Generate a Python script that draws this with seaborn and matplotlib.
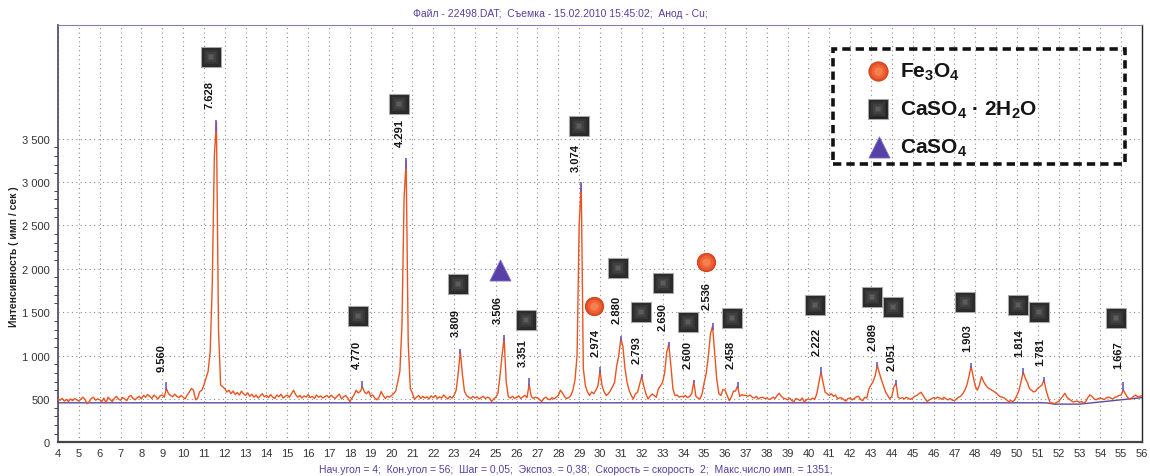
import numpy as np
import matplotlib
matplotlib.use('Agg')
import matplotlib.pyplot as plt
import seaborn as sns
from matplotlib.ticker import MultipleLocator, FixedLocator, FuncFormatter
from matplotlib.patches import Rectangle

# ---------------- data ----------------
scan_start, scan_end, scan_step = 4.0, 56.0, 0.1
intensity = (
    [500, 485, 505, 475, 495, 470, 500, 480, 505, 490] +      # 4
    [475, 500, 520, 490, 445, 470, 505, 520, 485, 500] +      # 5
    [490, 470, 510, 455, 520, 495, 470, 505, 530, 500] +      # 6
    [485, 515, 500, 480, 525, 540, 505, 490, 515, 530] +      # 7
    [500, 540, 520, 550, 530, 505, 545, 525, 500, 535] +      # 8
    [545, 520, 620, 560, 540, 525, 555, 530, 515, 540] +      # 9
    [520, 500, 545, 580, 620, 600, 490, 510, 585, 600] +      # 10
    [660, 740, 815, 1046, 1815, 3300, 3690, 1300, 660, 640] +  # 11
    [620, 580, 600, 560, 590, 550, 575, 545, 590, 560] +      # 12
    [540, 570, 530, 555, 520, 545, 510, 535, 560, 525] +      # 13
    [540, 515, 550, 520, 505, 545, 525, 555, 510, 530] +      # 14
    [545, 520, 560, 600, 550, 520, 540, 510, 535, 520] +      # 15
    [550, 515, 530, 505, 545, 520, 535, 510, 525, 540] +      # 16
    [515, 545, 520, 505, 535, 555, 500, 525, 540, 510] +      # 17
    [470, 510, 545, 600, 570, 585, 640, 580, 560, 590] +      # 18
    [530, 545, 510, 490, 520, 585, 540, 505, 530, 520] +      # 19
    [540, 560, 590, 700, 820, 1350, 2800, 3250, 1150, 620] +  # 20
    [565, 495, 520, 540, 505, 530, 510, 525, 500, 535] +      # 21
    [515, 540, 505, 525, 510, 545, 520, 500, 530, 510] +      # 22
    [540, 600, 800, 1050, 780, 585, 540, 520, 505, 530] +     # 23
    [510, 525, 500, 515, 530, 505, 520, 510, 470, 500] +      # 24
    [520, 560, 760, 1000, 1200, 700, 527, 510, 530, 505] +    # 25
    [520, 535, 505, 525, 540, 515, 670, 530, 505, 520] +      # 26
    [510, 495, 470, 505, 520, 500, 490, 515, 500, 520] +      # 27
    [540, 600, 570, 525, 505, 515, 540, 600, 720, 1000] +     # 28
    [2500, 2980, 850, 650, 580, 540, 580, 560, 600, 650] +    # 29
    [820, 650, 580, 540, 560, 595, 640, 690, 880, 1000] +     # 30
    [1200, 1100, 850, 690, 595, 540, 500, 560, 575, 670] +    # 31
    [760, 650, 560, 500, 530, 557, 540, 519, 615, 650] +      # 32
    [690, 800, 1037, 1130, 883, 615, 538, 545, 520, 530] +    # 33
    [525, 540, 515, 530, 560, 700, 530, 510, 500, 560] +      # 34
    [690, 800, 1000, 1250, 1340, 1037, 730, 560, 540, 610] +  # 35
    [600, 540, 480, 520, 590, 590, 650, 530, 550, 540] +      # 36
    [540, 530, 545, 520, 510, 530, 500, 515, 520, 505] +      # 37
    [510, 495, 500, 520, 505, 540, 565, 530, 510, 500] +      # 38
    [490, 510, 480, 470, 505, 495, 480, 510, 465, 490] +      # 39
    [500, 490, 510, 495, 560, 690, 810, 690, 577, 560] +      # 40
    [540, 560, 530, 545, 500, 515, 510, 490, 475, 505] +      # 41
    [510, 490, 505, 525, 530, 495, 480, 520, 510, 615] +      # 42
    [660, 700, 767, 890, 800, 720, 650, 580, 540, 500] +      # 43
    [530, 640, 680, 520, 505, 515, 500, 520, 505, 495] +      # 44
    [510, 530, 540, 560, 577, 540, 500, 470, 490, 500] +      # 45
    [515, 505, 520, 510, 495, 520, 500, 490, 505, 485] +      # 46
    [480, 500, 520, 530, 560, 600, 660, 760, 880, 760] +      # 47
    [650, 600, 660, 757, 700, 660, 630, 615, 600, 585] +      # 48
    [570, 545, 525, 520, 510, 490, 470, 480, 470, 490] +      # 49
    [540, 600, 700, 810, 740, 690, 620, 600, 580, 590] +      # 50
    [623, 640, 660, 720, 600, 520, 450, 455, 445, 460] +      # 51
    [470, 500, 530, 565, 520, 500, 480, 465, 470, 475] +      # 52
    [460, 470, 450, 470, 515, 546, 530, 500, 490, 505] +      # 53
    [510, 500, 495, 515, 520, 510, 500, 520, 525, 540] +      # 54
    [545, 604, 560, 520, 500, 510, 530, 545, 520, 530] +      # 55
    [540]                                                     # 56
)
two_theta = np.round(np.arange(len(intensity)) * scan_step + scan_start, 2)

base_theta = [4.0, 51.4, 51.8, 53.0, 56.0]
base_level = [455, 455, 440, 440, 515]

tip_theta = [9.2, 11.6, 18.6, 20.7, 23.3, 25.4, 26.6, 29.1, 30.0, 31.0, 32.0,
             33.3, 34.5, 35.4, 36.6, 40.6, 43.3, 44.2, 47.8, 50.3, 51.3, 55.1]
tip_top = [690, 3720, 707, 3280, 1080, 1235, 740, 3005, 865, 1230, 790,
           1160, 720, 1375, 700, 870, 920, 720, 910, 860, 757, 700]

d_labels = ['9.560', '7.628', '4.770', '4.291', '3.809', '3.506', '3.351', '3.074',
            '2.974', '2.880', '2.793', '2.690', '2.600', '2.536', '2.458', '2.222',
            '2.089', '2.051', '1.903', '1.814', '1.781', '1.667']
label_x = [8.99, 11.29, 18.34, 20.40, 23.09, 25.10, 26.30, 28.84, 29.80, 30.81, 31.77,
           33.02, 34.22, 35.13, 36.28, 40.40, 43.09, 44.00, 47.60, 50.09, 51.10, 54.84]
label_y = [983, 4012, 1019, 3574, 1386, 1536, 1041, 3287, 1156, 1536, 1075,
           1455, 1019, 1698, 1019, 1167, 1225, 995, 1213, 1156, 1052, 1019]

gypsum_x = [11.34, 18.39, 20.35, 23.18, 26.45, 28.99, 30.86, 31.96, 33.02, 34.22,
            36.33, 40.31, 43.04, 44.05, 47.50, 50.04, 51.05, 54.74]
gypsum_y = [4438, 1455, 3897, 1824, 1410, 3644, 2008, 1501, 1835, 1386,
            1432, 1582, 1674, 1559, 1616, 1582, 1501, 1432]
magnetite_x = [29.71, 35.08]
magnetite_y = [1570, 2078]
anhydrite_x = [25.2]
anhydrite_y = [1985]

y_major = [0, 500, 1000, 1500, 2000, 2500, 3000, 3500]

legend_labels = [r'Fe$_3$O$_4$', r'CaSO$_4$ · 2H$_2$O', r'CaSO$_4$']

title_text = 'Файл - 22498.DAT;  Съемка - 15.02.2010 15:45:02;  Анод - Cu;'
footer_text = ('Нач.угол = 4;  Кон.угол = 56;  Шаг = 0,05;  Экспоз. = 0,38;  '
               'Скорость = скорость  2;  Макс.число имп. = 1351;')
y_title = 'Интенсивность ( имп / сек )'

# ---------------- style ----------------
sns.set_style('white')
plt.rcParams['font.family'] = ['Liberation Sans', 'DejaVu Sans']
plt.rcParams['mathtext.fontset'] = 'custom'
plt.rcParams['mathtext.rm'] = 'Liberation Sans:bold'
plt.rcParams['mathtext.it'] = 'Liberation Sans:bold'
plt.rcParams['mathtext.bf'] = 'Liberation Sans:bold'

W, H = 1150, 477
fig = plt.figure(figsize=(W / 100, H / 100), dpi=100)
ax = fig.add_axes([58 / W, 1 - 443.3 / H, 1084 / W, 417.3 / H])

PURPLE = '#5b3d9c'
TRACE = '#ea5420'

sns.lineplot(x=base_theta, y=base_level, ax=ax, color='#5a4aa0', lw=1.0, zorder=2)
sns.lineplot(x=two_theta, y=intensity, ax=ax, color=TRACE, lw=1.0, zorder=3)

intens = np.array(intensity, dtype=float)
idx = np.rint((np.array(tip_theta) - scan_start) / scan_step).astype(int)
ax.vlines(tip_theta, intens[idx] * 0.97, tip_top, color='#6b5bc0', lw=1.2, zorder=4)

for t, x, y in zip(d_labels, label_x, label_y):
    ax.text(x, y, t, rotation=90, ha='center', va='center', fontsize=8,
            fontweight='bold', color='#151515', zorder=6)


def squares(xs, ys, scale=1.0, **kw):
    ax.scatter(xs, ys, s=225 * scale, marker='s', color='#222222', edgecolor='#a8a8a8',
               linewidth=0.8, zorder=7, clip_on=False, **kw)
    for k, (sz, col) in enumerate([(160, '#2c2c2c'), (105, '#363636'),
                                   (60, '#414141'), (25, '#4e4e4e'), (8, '#5c5c5c')]):
        ax.scatter(xs, ys, s=sz * scale, marker='s', color=col, linewidth=0,
                   zorder=8 + k * 0.1, clip_on=False, **kw)


def circles(xs, ys, scale=1.0, **kw):
    ax.scatter(xs, ys, s=175 * scale, marker='o', color='#e84d24', edgecolor='#c23a17',
               linewidth=0.6, zorder=7, clip_on=False, **kw)
    ax.scatter(xs, ys, s=95 * scale, marker='o', color='#ee6436', linewidth=0,
               zorder=8, clip_on=False, **kw)
    ax.scatter(xs, ys, s=35 * scale, marker='o', color='#f3804f', linewidth=0,
               zorder=8.1, clip_on=False, **kw)


def triangles(xs, ys, scale=1.0, **kw):
    ax.scatter(xs, ys, s=230 * scale, marker='^', color='#5840a6', edgecolor='#7d6cc4',
               linewidth=0.6, zorder=7, clip_on=False, **kw)


squares(gypsum_x, gypsum_y)
circles(magnetite_x, magnetite_y)
triangles(anhydrite_x, anhydrite_y)

# legend box
lx0, ly0, lx1, ly1 = 0.715, 0.667, 0.984, 0.9425
ax.add_patch(Rectangle((lx0, ly0), lx1 - lx0, ly1 - ly0, transform=ax.transAxes,
                       fill=False, edgecolor='#111', lw=2.6, ls=(0, (2.3, 1.4)),
                       zorder=10, clip_on=False))
leg_y = [0.890, 0.799, 0.708]
circles([0.7565], [leg_y[0]], scale=1.1, transform=ax.transAxes)
squares([0.7565], [leg_y[1]], scale=0.85, transform=ax.transAxes)
triangles([0.7575], [leg_y[2]], transform=ax.transAxes)
for lab, yy in zip(legend_labels, leg_y):
    ax.text(0.777, yy, lab, transform=ax.transAxes, ha='left', va='center',
            fontsize=15, fontweight='bold', color='#151515', zorder=11)

# axes
ax.set_xlim(scan_start, scan_end)
ax.set_ylim(0, 4810)
ax.xaxis.set_major_locator(MultipleLocator(1))
ax.yaxis.set_major_locator(FixedLocator(y_major))
ax.yaxis.set_minor_locator(FixedLocator(np.arange(0, y_major[-1] + 1, 100)))
ax.yaxis.set_major_formatter(FuncFormatter(
    lambda v, p: '{:,}'.format(int(v)).replace(',', ' ')))
ax.tick_params(axis='x', which='major', direction='in', length=4, width=0.8,
               color='#444', labelsize=8, labelcolor='#333', pad=4)
ax.tick_params(axis='y', which='major', direction='out', length=5, width=0.8,
               color='#444', labelsize=8, labelcolor='#333', pad=1)
ax.tick_params(axis='y', which='minor', direction='out', length=3, width=0.7,
               color='#444', left=True)
ax.grid(True, which='major', axis='both', color='#8c8c8c', lw=0.8,
        ls=(0, (1, 3)), zorder=0)
ax.set_axisbelow(True)

ax.spines['top'].set_color('#8a7ca8')
ax.spines['top'].set_linewidth(0.8)
ax.spines['right'].set_color('#222')
ax.spines['right'].set_linewidth(1.0)
ax.spines['left'].set_color('#4d4560')
ax.spines['left'].set_linewidth(1.2)
ax.spines['bottom'].set_color('#444')
ax.spines['bottom'].set_linewidth(1.6)
for s in ax.spines.values():
    s.set_visible(True)

ax.set_xlabel('')
ax.set_ylabel(y_title, fontsize=7.5, fontweight='bold', color='#222')
ax.yaxis.set_label_coords(-0.036, 0.446)

fig.text(560 / W, 1 - 14 / H, title_text, ha='center', va='center',
         fontsize=7.5, color=PURPLE)
fig.text(576 / W, 1 - 470 / H, footer_text, ha='center', va='center',
         fontsize=7.5, color=PURPLE)

fig.savefig('out.png', dpi=100, facecolor='white')
